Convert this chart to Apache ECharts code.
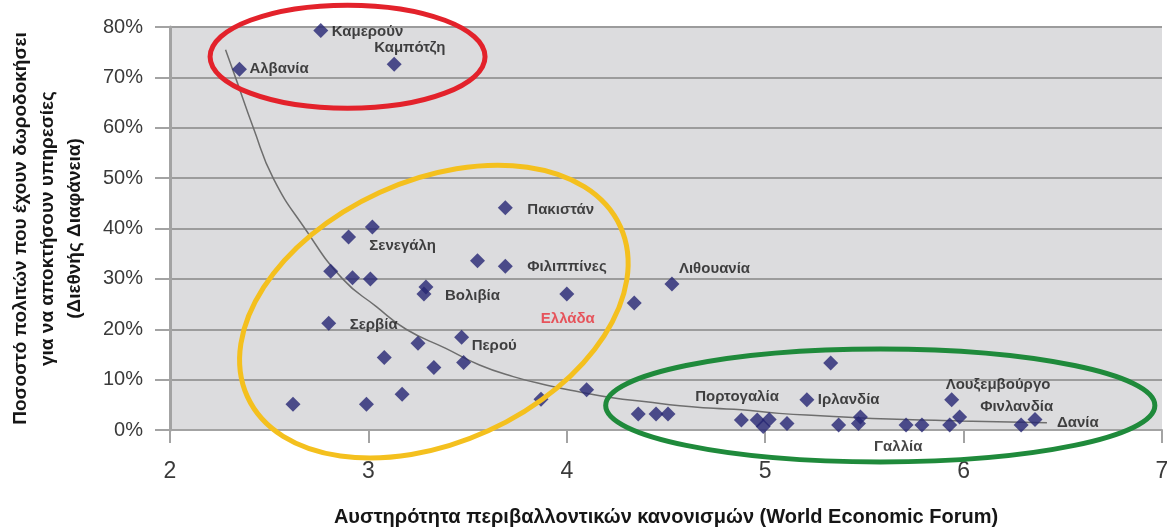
<!DOCTYPE html>
<html>
<head>
<meta charset="utf-8">
<script src="https://cdn.jsdelivr.net/npm/echarts@6/dist/echarts.min.js"></script>
<style>
  html, body { margin: 0; padding: 0; background: #fff; }
  #chart { width: 1167px; height: 527px; }
</style>
</head>
<body>
<div id="chart"></div>
<script>
// countries: environmental regulation stringency (x) vs % of citizens who paid bribes (y)
var countryX = [2.35, 2.76, 3.13,
  3.69, 3.02, 2.90, 3.55, 3.69, 2.81, 2.92, 3.01, 3.29, 3.28, 4.00, 4.34, 4.53,
  2.80, 3.47, 3.25, 3.08, 3.48, 3.33, 4.10, 3.17, 3.87, 2.62, 2.99,
  4.36, 4.45, 4.51, 5.33, 4.88, 4.96, 4.99, 5.02, 5.11, 5.21, 5.37, 5.47, 5.48,
  5.71, 5.79, 5.94, 5.93, 5.98, 6.29, 6.36];
var countryY = [71.6, 79.3, 72.6,
  44.1, 40.3, 38.3, 33.6, 32.5, 31.5, 30.2, 30.0, 28.4, 27.0, 27.0, 25.2, 29.0,
  21.2, 18.4, 17.2, 14.4, 13.4, 12.4, 8.0, 7.1, 6.1, 5.1, 5.1,
  3.2, 3.2, 3.2, 13.3, 2.0, 2.0, 0.7, 2.1, 1.3, 6.0, 1.0, 1.3, 2.6,
  1.0, 1.0, 6.0, 1.0, 2.6, 1.0, 2.1];
var countryName = ['Αλβανία', 'Καμερούν', 'Καμπότζη',
  'Πακιστάν', 'Σενεγάλη', '', '', 'Φιλιππίνες', '', '', '', '', 'Βολιβία', 'Ελλάδα', '', 'Λιθουανία',
  'Σερβία', 'Περού', '', '', '', '', '', '', '', '', '',
  '', '', '', '', '', 'Πορτογαλία', '', '', '', 'Ιρλανδία', '', '', '',
  'Γαλλία', '', 'Λουξεμβούργο', '', '', 'Φινλανδία', 'Δανία'];

// trend curve
var trendX = [2.28, 2.33, 2.42, 2.52, 2.68, 2.87, 3.04, 3.19, 3.39, 3.56, 3.73, 3.90,
  4.06, 4.23, 4.40, 4.57, 4.74, 4.88, 5.07, 5.30, 5.54, 5.98, 6.42];
var trendY = [75.5, 70, 60, 50, 40, 30, 24.5, 20, 16.2, 12.9, 10.6, 8.9,
  7.6, 6.4, 5.6, 4.8, 4.3, 4.0, 3.3, 2.8, 2.3, 1.8, 1.45];

// label offsets (px, left edge / vertical centre relative to the marker)
var labelOffset = {
  'Αλβανία': [10, 0], 'Καμερούν': [11, 1], 'Καμπότζη': [-20, -16],
  'Πακιστάν': [22, 2], 'Σενεγάλη': [-3, 19], 'Φιλιππίνες': [22, 1],
  'Βολιβία': [21, 2], 'Ελλάδα': [-26, 25], 'Σερβία': [21, 2],
  'Περού': [10, 9], 'Λιθουανία': [7, -15], 'Πορτογαλία': [-62, -23],
  'Ιρλανδία': [11, 0], 'Λουξεμβούργο': [-6, -15], 'Φινλανδία': [-41, -18],
  'Δανία': [22, 3], 'Γαλλία': [-32, 22]
};

// highlight ellipses: centre x, centre y, radius x, radius y (axis units), rotation deg
var ellipses = [
  { v: [2.895, 74.1, 0.693, 10.24, 0], color: '#e3222b' },
  { v: [3.33, 23.5, 1.033, 26.0, 24.5], color: '#f4c01e' },
  { v: [5.58, 4.87, 1.384, 11.2, 0], color: '#1f8a3b' }
];

var font = "'Liberation Sans', Arial, sans-serif";

var points = countryX.map(function (x, i) {
  var name = countryName[i];
  var item = { value: [x, countryY[i]], name: name };
  if (name) {
    item.label = {
      show: true, position: 'inside', align: 'left', verticalAlign: 'middle',
      offset: labelOffset[name], formatter: name,
      color: name === 'Ελλάδα' ? '#e8313a' : '#161616'
    };
  }
  return item;
});

var trend = trendX.map(function (x, i) { return [x, trendY[i]]; });

var chart = echarts.init(document.getElementById('chart'));
chart.setOption({
  backgroundColor: '#ffffff',
  animation: false,
  grid: {
    left: 170, right: 5, top: 27, bottom: 97,
    outerBoundsMode: 'none', containLabel: false,
    show: true, backgroundColor: '#dcdcde', borderWidth: 0
  },
  xAxis: {
    type: 'value', min: 2, max: 7, interval: 1,
    name: 'Αυστηρότητα περιβαλλοντικών κανονισμών (World Economic Forum)',
    nameLocation: 'middle', nameGap: 77,
    nameTextStyle: { fontFamily: font, fontWeight: 'bold', fontSize: 20, color: '#161616' },
    axisLine: { lineStyle: { color: '#a3a3a3', width: 2 } },
    axisTick: { show: true, length: 13, lineStyle: { color: '#a3a3a3', width: 2 } },
    axisLabel: { fontFamily: font, fontSize: 23, color: '#3a3a3a', margin: 30 },
    splitLine: { show: false }
  },
  yAxis: {
    type: 'value', min: 0, max: 80, interval: 10,
    name: 'Ποσοστό πολιτών που έχουν δωροδοκήσει\nγια να αποκτήσουν υπηρεσίες\n(Διεθνής Διαφάνεια)',
    nameLocation: 'middle', nameRotate: 90, nameGap: 82,
    nameTextStyle: { fontFamily: font, fontWeight: 'bold', fontSize: 19, lineHeight: 27, color: '#161616' },
    axisLine: { show: true, lineStyle: { color: '#a3a3a3', width: 3 } },
    axisTick: { show: true, length: 15, lineStyle: { color: '#a3a3a3', width: 2 } },
    axisLabel: { fontFamily: font, fontSize: 20, color: '#3a3a3a', margin: 27, formatter: '{value}%' },
    splitLine: { show: true, lineStyle: { color: '#9c9c9c', width: 2 } }
  },
  series: [
    {
      type: 'line', data: trend, smooth: true, symbol: 'none', z: 2,
      lineStyle: { color: '#6e6e6e', width: 1.5 }
    },
    {
      type: 'scatter', data: points, symbol: 'diamond', symbolSize: 15, z: 3,
      itemStyle: { color: '#252573' },
      label: { fontFamily: font, fontWeight: 'bold', fontSize: 15 }
    },
    {
      type: 'custom', z: 4, clip: false, silent: true,
      data: ellipses.map(function (e) { return e.v; }),
      renderItem: function (params, api) {
        var c = api.coord([api.value(0), api.value(1)]);
        var s = api.size([api.value(2), api.value(3)]);
        return {
          type: 'ellipse', x: c[0], y: c[1],
          rotation: api.value(4) * Math.PI / 180,
          shape: { cx: 0, cy: 0, rx: s[0], ry: s[1] },
          style: { fill: 'none', stroke: ellipses[params.dataIndex].color, lineWidth: 5 }
        };
      }
    }
  ]
});
</script>
</body>
</html>
